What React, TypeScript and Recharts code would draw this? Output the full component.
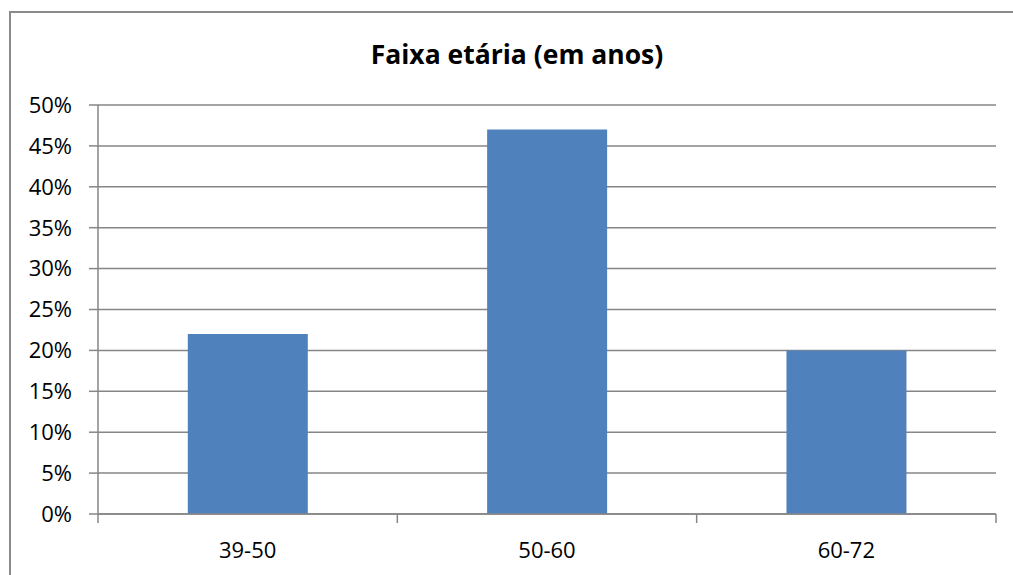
import React from "react";
import { BarChart, Bar, XAxis, YAxis, CartesianGrid } from "recharts";

const categories = ["39-50", "50-60", "60-72"];
const percentages = [22, 47, 20];
const yTicks = [0, 5, 10, 15, 20, 25, 30, 35, 40, 45, 50];
const title = "Faixa etária (em anos)";

const data = categories.map((faixa, i) => ({ faixa, valor: percentages[i] }));

const FONT = "'Open Sans', 'Liberation Sans', sans-serif";
const GRID = "#868686";
const BAR = "#4F81BD";

// x ticks sit on the category boundaries, labels in the middle
const CategoryTick = (props: any) => {
  const { x, y, payload, index } = props;
  const half = payload?.offset ?? 149.7;
  const top = y - 9;
  return (
    <g>
      <line x1={x - half} y1={top} x2={x - half} y2={y} stroke={GRID} strokeWidth={1.5} />
      {index === categories.length - 1 && (
        <line x1={x + half} y1={top} x2={x + half} y2={y} stroke={GRID} strokeWidth={1.5} />
      )}
      <text x={x} y={y + 35} textAnchor="middle" fill="#000" fontSize={22} fontFamily={FONT}>
        {payload.value}
      </text>
    </g>
  );
};

export default function App() {
  return (
    <div
      style={{
        position: "absolute",
        left: 0,
        top: 0,
        width: 1013,
        height: 575,
        background: "#fff",
        overflow: "hidden",
      }}
    >
      {/* chart frame */}
      <div
        style={{
          position: "absolute",
          left: 9,
          top: 11,
          width: 1030,
          height: 620,
          border: "2px solid #8a8a8a",
        }}
      />
      <div
        style={{
          position: "absolute",
          left: 10,
          width: 1014,
          top: 36,
          textAlign: "center",
          fontFamily: FONT,
          fontWeight: 700,
          fontSize: 26.5,
          color: "#000",
        }}
      >
        {title}
      </div>
      <div style={{ position: "absolute", left: 0, top: 0 }}>
        <BarChart
          width={1013}
          height={575}
          data={data}
          margin={{ top: 105, right: 17, bottom: 0, left: 0 }}
          barCategoryGap="30%"
        >
          <CartesianGrid vertical={false} stroke={GRID} strokeWidth={1.5} />
          <YAxis
            width={98}
            domain={[0, 50]}
            ticks={yTicks}
            interval={0}
            tickFormatter={(v: number) => `${v}%`}
            tickSize={9}
            tickMargin={17}
            stroke={GRID}
            strokeWidth={1.5}
            tick={{ fill: "#000", fontSize: 22, fontFamily: FONT }}
          />
          <XAxis
            dataKey="faixa"
            height={61}
            tickSize={9}
            tickMargin={0}
            tickLine={false}
            stroke={GRID}
            strokeWidth={1.5}
            interval={0}
            tick={<CategoryTick />}
          />
          <Bar dataKey="valor" fill={BAR} isAnimationActive={false} />
        </BarChart>
      </div>
    </div>
  );
}
